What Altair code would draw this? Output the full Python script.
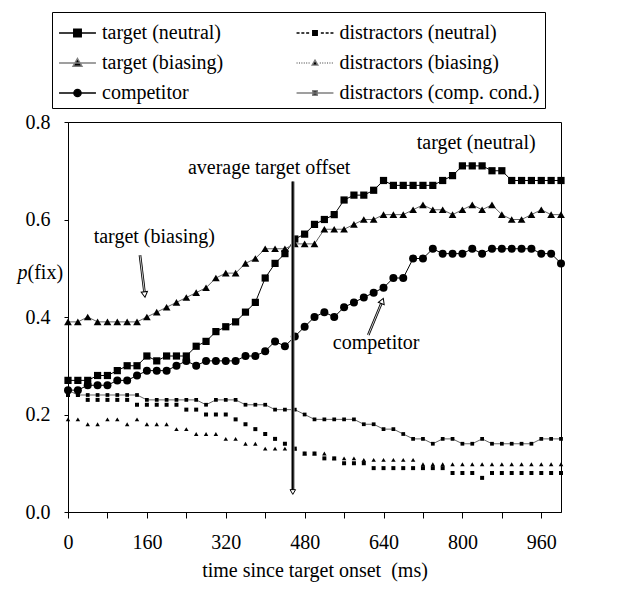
import altair as alt
import pandas as pd

# ---------------- data ----------------
time_ms = list(range(0, 1001, 20))

target_neutral = [0.27, 0.27, 0.27, 0.28, 0.28, 0.29, 0.30, 0.30, 0.32, 0.31,
                  0.32, 0.32, 0.32, 0.34, 0.35, 0.37, 0.38, 0.39, 0.41, 0.43,
                  0.48, 0.51, 0.53, 0.56, 0.57, 0.59, 0.60, 0.61, 0.64, 0.65,
                  0.65, 0.66, 0.68, 0.67, 0.67, 0.67, 0.67, 0.67, 0.68, 0.69,
                  0.71, 0.71, 0.71, 0.70, 0.70, 0.68, 0.68, 0.68, 0.68, 0.68, 0.68]
target_biasing = [0.39, 0.39, 0.40, 0.39, 0.39, 0.39, 0.39, 0.39, 0.40, 0.41,
                  0.42, 0.43, 0.44, 0.45, 0.46, 0.48, 0.49, 0.49, 0.51, 0.52,
                  0.54, 0.54, 0.54, 0.55, 0.55, 0.55, 0.58, 0.58, 0.58, 0.59,
                  0.60, 0.60, 0.61, 0.61, 0.61, 0.62, 0.63, 0.62, 0.62, 0.61,
                  0.62, 0.63, 0.62, 0.63, 0.61, 0.60, 0.60, 0.61, 0.62, 0.61, 0.61]
competitor = [0.25, 0.25, 0.26, 0.26, 0.26, 0.27, 0.27, 0.28, 0.29, 0.29,
              0.29, 0.30, 0.31, 0.30, 0.31, 0.31, 0.31, 0.31, 0.32, 0.32,
              0.33, 0.35, 0.34, 0.36, 0.38, 0.40, 0.41, 0.40, 0.42, 0.43,
              0.44, 0.45, 0.46, 0.48, 0.48, 0.52, 0.52, 0.54, 0.53, 0.53,
              0.53, 0.54, 0.53, 0.54, 0.54, 0.54, 0.54, 0.54, 0.53, 0.53, 0.51]
distractors_neutral = [0.24, 0.24, 0.23, 0.23, 0.23, 0.23, 0.23, 0.22, 0.22, 0.22,
                       0.22, 0.22, 0.21, 0.21, 0.20, 0.20, 0.20, 0.19, 0.18, 0.17,
                       0.16, 0.15, 0.14, 0.13, 0.12, 0.12, 0.11, 0.11, 0.10, 0.10,
                       0.10, 0.09, 0.09, 0.09, 0.09, 0.09, 0.09, 0.09, 0.09, 0.08,
                       0.08, 0.08, 0.07, 0.08, 0.08, 0.08, 0.08, 0.08, 0.08, 0.08, 0.08]
distractors_biasing = [0.19, 0.19, 0.18, 0.18, 0.19, 0.19, 0.18, 0.19, 0.18, 0.18,
                       0.18, 0.17, 0.17, 0.16, 0.16, 0.16, 0.15, 0.15, 0.14, 0.14,
                       0.13, 0.13, 0.13, 0.13, 0.12, 0.12, 0.12, 0.11, 0.11, 0.11,
                       0.107, 0.107, 0.107, 0.107, 0.107, 0.107, 0.098, 0.098, 0.098, 0.098,
                       0.098, 0.098, 0.098, 0.098, 0.098, 0.098, 0.098, 0.098, 0.098, 0.098, 0.098]
distractors_comp = [0.25, 0.24, 0.24, 0.24, 0.24, 0.24, 0.24, 0.24, 0.23, 0.23,
                    0.23, 0.23, 0.23, 0.23, 0.22, 0.23, 0.23, 0.23, 0.22, 0.22,
                    0.22, 0.21, 0.21, 0.21, 0.20, 0.19, 0.19, 0.19, 0.19, 0.19,
                    0.18, 0.18, 0.17, 0.17, 0.16, 0.15, 0.15, 0.14, 0.15, 0.15,
                    0.14, 0.14, 0.15, 0.14, 0.14, 0.14, 0.14, 0.14, 0.15, 0.15, 0.15]

series_names = ["target (neutral)", "target (biasing)", "competitor",
                "distractors (neutral)", "distractors (biasing)", "distractors (comp. cond.)"]
series_values = [target_neutral, target_biasing, competitor,
                 distractors_neutral, distractors_biasing, distractors_comp]

rows = []
for name, vals in zip(series_names, series_values):
    for t, v in zip(time_ms, vals):
        rows.append({"time": t, "p": v, "series": name})
df = pd.DataFrame(rows)

# ---------------- styles ----------------
FONT = "Liberation Serif"
FS = 20

line_series = ["target (neutral)", "target (biasing)", "competitor", "distractors (comp. cond.)"]
line_colors = ["#000000", "#666666", "#000000", "#666666"]

point_shapes = ["square", "triangle-up", "circle", "square", "triangle-up", "square"]
point_sizes = [52, 60, 64, 16, 20, 14]

x_enc = alt.X("time:Q", scale=alt.Scale(domain=[0, 1000], nice=False, zero=False),
              axis=alt.Axis(values=time_ms, format="d",
                            labelExpr="datum.value % 160 === 0 ? datum.label : ''",
                            tickSize=6, labelPadding=14, titlePadding=8, labelAngle=0,
                            labelOverlap=False, labelFlush=False, grid=False),
              title="time since target onset \u00a0(ms)")
y_enc = alt.Y("p:Q", scale=alt.Scale(domain=[0, 0.8], nice=False),
              axis=alt.Axis(values=[0, 0.2, 0.4, 0.6, 0.8], format=".1f", tickSize=4,
                            labelPadding=14, grid=False),
              title=None)

base = alt.Chart(df)

lines = base.transform_filter(
    alt.FieldOneOfPredicate(field="series", oneOf=line_series)
).mark_line(strokeWidth=1).encode(
    x=x_enc, y=y_enc,
    color=alt.Color("series:N", scale=alt.Scale(domain=line_series, range=line_colors), legend=None),
)

point_layers = []
for name, shp, sz in zip(series_names, point_shapes, point_sizes):
    point_layers.append(
        base.transform_filter(alt.FieldEqualPredicate(field="series", equal=name))
        .mark_point(filled=True, opacity=1, color="black", shape=shp, size=sz)
        .encode(x=x_enc, y=y_enc)
    )

# ---------------- legend (symbols: line + marker as paths) ----------------
DX = 0.3  # horizontal shift of legend symbol drawings (in symbol units)


def seg(a, b):
    return f"M{a + DX:.3f},0H{b + DX:.3f}"


def shift(path_pts, closed=True):
    return "M" + "L".join(f"{x + DX:.3f},{y:.3f}" for x, y in path_pts) + ("Z" if closed else "")


L = 1.23
solid = seg(-L, L)
dashdot = "".join(seg(a, a + 0.2) for a in [-1.23, -0.91, -0.59, 0.39, 0.71, 1.03])
dotted = "".join(seg(a, a + 0.07) for a in [-1.23, -1.07, -0.91, -0.75, -0.59, -0.43,
                                            0.32, 0.48, 0.64, 0.80, 0.96, 1.12])
sq_big = shift([(-0.25, -0.25), (0.25, -0.25), (0.25, 0.25), (-0.25, 0.25)])
tri = shift([(0, -0.3), (0.3, 0.22), (-0.3, 0.22)])
circ = (f"M{0.24 + DX:.3f},0A0.24,0.24 0 1,1 {-0.24 + DX:.3f},0"
        f"A0.24,0.24 0 1,1 {0.24 + DX:.3f},0Z")
sq_small = shift([(-0.15, -0.15), (0.15, -0.15), (0.15, 0.15), (-0.15, 0.15)])
tri_small = shift([(0, -0.19), (0.19, 0.14), (-0.19, 0.14)])

# column-major legend: left column targets + competitor, right column distractors
legend_order = series_names
legend_paths = [solid + sq_big, solid + tri, solid + circ,
                dashdot + sq_small, dotted + tri_small, solid + sq_small]
legend_strokes = ["#000000", "#808080", "#000000", "#000000", "#808080", "#808080"]

leg = alt.Legend(title=None, orient="none", legendX=-16, legendY=-110, columns=2,
                 columnPadding=69.5, rowPadding=4, symbolSize=900, symbolStrokeWidth=1.4,
                 labelFont=FONT, labelFontSize=FS, labelColor="black", labelOffset=13,
                 padding=5, strokeColor="black", fillColor="white", labelLimit=400)

legend_layer = base.transform_filter("false").mark_point(filled=True, color="black", opacity=1).encode(
    x=x_enc, y=y_enc,
    shape=alt.Shape("series:N", scale=alt.Scale(domain=legend_order, range=legend_paths), legend=leg),
    stroke=alt.Stroke("series:N", scale=alt.Scale(domain=legend_order, range=legend_strokes), legend=leg),
)

# ---------------- annotations ----------------
one = alt.Data(values=[{}])


def note(text, t, v, align="center"):
    return alt.Chart(one).mark_text(font=FONT, fontSize=FS, color="black", align=align,
                                    baseline="middle").encode(
        x=alt.datum(t), y=alt.datum(v), text=alt.value(text))


def seg_rule(t1, v1, t2, v2, color, width):
    return alt.Chart(one).mark_rule(color=color, strokeWidth=width).encode(
        x=alt.datum(t1), y=alt.datum(v1), x2=alt.datum(t2), y2=alt.datum(v2))


def head(t, v, shape, angle, size):
    return alt.Chart(one).mark_point(shape=shape, filled=True, fill="white", stroke="black",
                                     strokeWidth=1, size=size, angle=angle, opacity=1).encode(
        x=alt.datum(t), y=alt.datum(v))


offset_ms = 456
annotations = [
    seg_rule(offset_ms, 0.678, offset_ms, 0.045, "#808080", 3.6),
    seg_rule(offset_ms, 0.678, offset_ms, 0.045, "#000000", 1.6),
    head(offset_ms, 0.041, "triangle-down", 0, 30),
    note("average target offset", 408, 0.706),
    note("target (neutral)", 828, 0.757),
    note("target (biasing)", 175, 0.565),
    seg_rule(146, 0.527, 155, 0.452, "#000000", 2.6),
    seg_rule(146, 0.527, 155, 0.452, "#ffffff", 0.8),
    head(155.5, 0.446, "triangle-down", 353, 40),
    note("competitor", 625, 0.347),
    seg_rule(609, 0.363, 636.5, 0.430, "#000000", 2.6),
    seg_rule(609, 0.363, 636.5, 0.430, "#ffffff", 0.8),
    head(637.5, 0.433, "triangle-up", 22, 40),
]

# y title "p(fix)" with italic p
ytitle = [
    alt.Chart(one).mark_text(font=FONT, fontSize=FS, fontStyle="italic", color="black",
                             align="right", baseline="middle").encode(
        x=alt.value(-40.5), y=alt.datum(0.49), text=alt.value("p")),
    alt.Chart(one).mark_text(font=FONT, fontSize=FS, color="black",
                             align="left", baseline="middle").encode(
        x=alt.value(-40.5), y=alt.datum(0.49), text=alt.value("(fix)")),
]

# outer figure frame (top and left edges)
frame = [
    alt.Chart(one).mark_rule(color="black", strokeWidth=1).encode(
        x=alt.value(-63), y=alt.value(-116), y2=alt.value(470)),
    alt.Chart(one).mark_rule(color="black", strokeWidth=1).encode(
        x=alt.value(-63), x2=alt.value(560), y=alt.value(-116)),
]

chart = alt.layer(
    lines, *point_layers, *annotations, *ytitle, *frame, legend_layer
).properties(
    width=493, height=390,
    padding={"left": 60, "top": 114, "right": 48, "bottom": 70},
    autosize=alt.AutoSizeParams(type="none"),
).configure_axis(
    labelFont=FONT, labelFontSize=FS, labelColor="black",
    titleFont=FONT, titleFontSize=FS, titleFontWeight="normal", titleColor="black",
    domainColor="black", tickColor="black",
).configure_view(
    stroke="black", strokeWidth=1
)

chart.save("out.html", embed_options={"renderer": "svg", "actions": False})
